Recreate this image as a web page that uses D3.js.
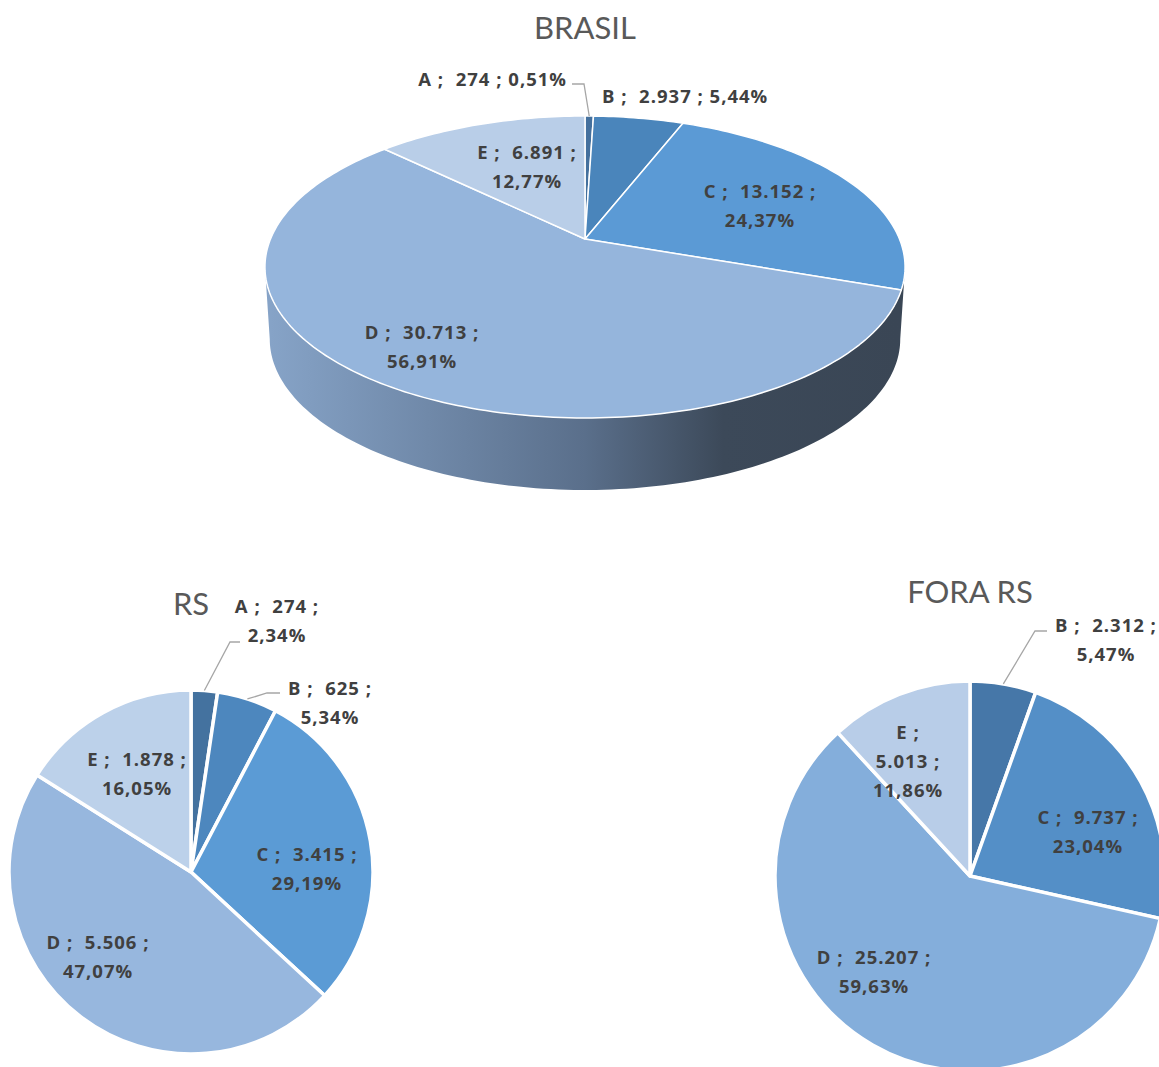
<!DOCTYPE html>
<html>
<head>
<meta charset="utf-8">
<script src="https://cdn.jsdelivr.net/npm/d3@7"></script>
<style>
body { margin: 0; background: #fff; }
svg { display: block; font-family: Lato, "Open Sans", sans-serif; }
text { white-space: pre; }
</style>
</head>
<body>
<svg width="1159" height="1067"></svg>
<script>
// data
var categories = ["A", "B", "C", "D", "E"];
var brasilValues = [274, 2937, 13152, 30713, 6891];
var rsValues = [274, 625, 3415, 5506, 1878];
var foraValues = [0, 2312, 9737, 25207, 5013];
var titles = ["BRASIL", "RS", "FORA RS"];

// colours
var brasilColors = ["#44709d", "#4a85bb", "#5b9ad5", "#95b5dc", "#b9cee8"];
var rsColors = ["#44729f", "#4d87be", "#5b9bd5", "#97b7de", "#bcd1ea"];
var foraColors = ["#44729f", "#4677a8", "#548fc7", "#84aedb", "#b8cde8"];

var svg = d3.select("svg");
var br = d3.formatLocale({decimal: ",", thousands: ".", grouping: [3], currency: ["R$", ""]});
var fmtInt = br.format(",d");
var fmtPct = br.format(",.2f");
var lineH = 29;

function labelLines(cat, v, total, mode) {
    var p = fmtPct(v / total * 100) + "%";
    if (mode == "one") return [cat + " ;  " + fmtInt(v) + " ; " + p];
    if (mode == "three") return [cat + " ;", fmtInt(v) + " ;", p];
    return [cat + " ;  " + fmtInt(v) + " ;", p];
}

function drawLabels(g, arcs, total, layout, edgePoint) {
    arcs.forEach(function(d) {
        var L = layout[categories[d.index]];
        if (!L || d.value == 0) return;
        if (L.leader) {
            var s = edgePoint(d);
            g.append("polyline")
                .attr("points", [s].concat(L.leader).map(function(p) { return p.join(","); }).join(" "))
                .attr("fill", "none")
                .attr("stroke", "#a6a6a6")
                .attr("stroke-width", 1.3);
        }
        var t = g.append("text")
            .attr("xml:space", "preserve")
            .attr("text-anchor", L.anchor || "middle")
            .attr("font-family", "'Open Sans', sans-serif")
            .attr("font-size", 18.5)
            .attr("letter-spacing", 1)
            .attr("font-weight", "bold")
            .attr("fill", "#404040");
        labelLines(categories[d.index], d.value, total, L.mode).forEach(function(s, i) {
            t.append("tspan").attr("x", L.dx).attr("y", L.dy + i * lineH).text(s);
        });
    });
}

function drawTitle(txt, x, y) {
    svg.append("text")
        .attr("x", x).attr("y", y)
        .attr("text-anchor", "middle")
        .attr("font-size", 31)
        .attr("fill", "#595959")
        .text(txt);
}

// ---- BRASIL : 3D pie with perspective ----
var k3 = -0.1854, a3 = 314.5, b3 = 145.8, depth = 72;
var bcx = 585, bcy = 239;

function proj(phi, dz, s) {
    var X = Math.sin(phi), Z = -Math.cos(phi), den = 1 + k3 * Z;
    return [a3 * s * X / den, b3 * Z / den + dz];
}

function arcPts(a0, a1, dz, s) {
    var n = Math.max(2, Math.ceil(Math.abs(a1 - a0) / 0.02));
    return d3.range(n + 1).map(function(i) { return proj(a0 + (a1 - a0) * i / n, dz, s); });
}

var defs = svg.append("defs");
var grad = defs.append("linearGradient")
    .attr("id", "sideGrad")
    .attr("gradientUnits", "userSpaceOnUse")
    .attr("x1", -a3).attr("x2", a3).attr("y1", 0).attr("y2", 0);
grad.append("stop").attr("offset", "0").attr("stop-color", "#86a3c7");
grad.append("stop").attr("offset", "0.5").attr("stop-color", "#5a6f8b");
grad.append("stop").attr("offset", "0.72").attr("stop-color", "#3c4959");
grad.append("stop").attr("offset", "1").attr("stop-color", "#3a4655");

var gB = svg.append("g").attr("transform", "translate(" + bcx + "," + bcy + ")");
var brasilTotal = d3.sum(brasilValues);
var brasilArcs = d3.pie().sort(null)(brasilValues);

var phiR = Math.acos(k3), phiL = 2 * Math.PI - phiR;
var side = arcPts(phiR, phiL, 0, 1).concat(arcPts(phiL, phiR, depth, 0.985));
gB.append("path")
    .attr("d", d3.line()(side) + "Z")
    .attr("fill", "url(#sideGrad)");

gB.selectAll("path.slice")
    .data(brasilArcs.filter(function(d) { return d.value > 0; }))
    .join("path")
    .attr("class", "slice")
    .attr("d", function(d) { return d3.line()([[0, 0]].concat(arcPts(d.startAngle, d.endAngle, 0, 1))) + "Z"; })
    .attr("fill", function(d) { return brasilColors[d.index]; })
    .attr("stroke", "#fff")
    .attr("stroke-width", 1.5)
    .attr("stroke-linejoin", "round");

drawLabels(gB, brasilArcs, brasilTotal, {
    A: {mode: "one", anchor: "end", dx: -18, dy: -153, leader: [[-1, -155], [-13, -155]]},
    B: {mode: "one", anchor: "start", dx: 17, dy: -136},
    C: {mode: "two", dx: 175, dy: -41},
    D: {mode: "two", dx: -163, dy: 100},
    E: {mode: "two", dx: -58, dy: -80}
}, function(d) { return proj((d.startAngle + d.endAngle) / 2, 0, 1); });

drawTitle(titles[0], bcx, 39);

// ---- flat pies ----
function flatPie(values, colors, cx, cy, r, layout) {
    var total = d3.sum(values);
    var arcs = d3.pie().sort(null)(values);
    var arc = d3.arc().innerRadius(0).outerRadius(r);
    var g = svg.append("g").attr("transform", "translate(" + cx + "," + cy + ")");
    g.selectAll("path.slice")
        .data(arcs.filter(function(d) { return d.value > 0; }))
        .join("path")
        .attr("class", "slice")
        .attr("d", arc)
        .attr("fill", function(d) { return colors[d.index]; })
        .attr("stroke", "#fff")
        .attr("stroke-width", 3.5)
        .attr("stroke-linejoin", "round");
    drawLabels(g, arcs, total, layout, function(d) {
        var m = (d.startAngle + d.endAngle) / 2;
        return [r * Math.sin(m), -r * Math.cos(m)];
    });
}

flatPie(rsValues, rsColors, 191, 872, 182, {
    A: {mode: "two", dx: 86, dy: -259, leader: [[39, -230], [49, -230]]},
    B: {mode: "two", dx: 139, dy: -177, leader: [[76, -179], [89, -179]]},
    C: {mode: "two", dx: 116, dy: -11},
    D: {mode: "two", dx: -93, dy: 77},
    E: {mode: "two", dx: -54, dy: -106}
});
drawTitle(titles[1], 191, 615);

flatPie(foraValues, foraColors, 970, 876, 195, {
    B: {mode: "two", dx: 136, dy: -244, leader: [[65, -245], [77, -245]]},
    C: {mode: "two", dx: 118, dy: -52},
    D: {mode: "two", dx: -96, dy: 88},
    E: {mode: "three", dx: -62, dy: -137}
});
drawTitle(titles[2], 970, 603);
</script>
</body>
</html>
